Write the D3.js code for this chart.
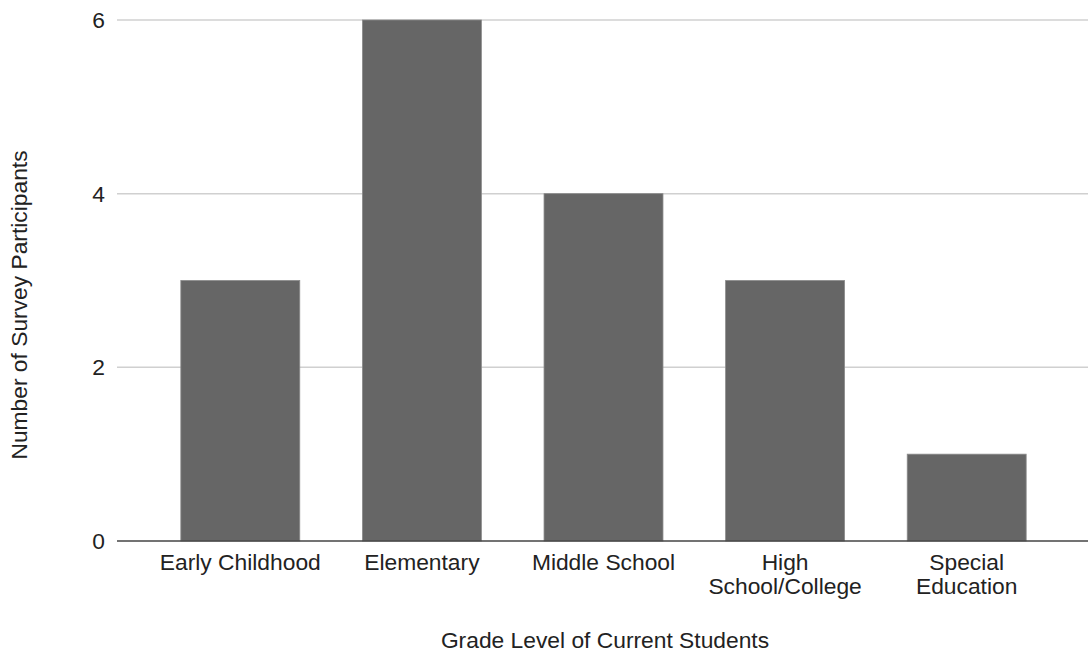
<!DOCTYPE html>
<html>
<head>
<meta charset="utf-8">
<script src="https://cdn.jsdelivr.net/npm/d3@7"></script>
<style>
  html, body { margin: 0; padding: 0; background: #fff; }
  svg { display: block; font-family: "Liberation Sans", Arial, sans-serif; }
</style>
</head>
<body>
<svg id="chart" width="1088" height="660"></svg>
<script>
// Survey participants by grade level taught
const categories = ["Early Childhood", "Elementary", "Middle School", "High School/College", "Special Education"];
const categoryLines = [["Early Childhood"], ["Elementary"], ["Middle School"], ["High", "School/College"], ["Special", "Education"]];
const participants = [3, 6, 4, 3, 1];
const yTicks = [0, 2, 4, 6];

const svg = d3.select("#chart");
const plot = { left: 117, right: 1088, top: 20, bottom: 541 };
const fontSize = 22.8;

const x = d3.scaleBand()
  .domain(categories)
  .range([149.5, 1057.5])
  .paddingInner(0.345)
  .paddingOuter(0.1725);

const y = d3.scaleLinear()
  .domain([0, 6])
  .range([plot.bottom, plot.top]);

// horizontal gridlines
svg.append("g")
  .selectAll("line")
  .data(yTicks.filter(d => d !== 0))
  .join("line")
  .attr("x1", plot.left)
  .attr("x2", plot.right)
  .attr("y1", d => y(d))
  .attr("y2", d => y(d))
  .attr("stroke", "#d0d0d0")
  .attr("stroke-width", 1.5);

// y tick labels
svg.append("g")
  .selectAll("text")
  .data(yTicks)
  .join("text")
  .attr("x", 105)
  .attr("y", d => y(d))
  .attr("dy", "0.35em")
  .attr("text-anchor", "end")
  .attr("font-size", fontSize)
  .attr("fill", "#222")
  .text(d => d);

// bars
svg.append("g")
  .selectAll("rect")
  .data(participants)
  .join("rect")
  .attr("x", (d, i) => x(categories[i]))
  .attr("width", x.bandwidth())
  .attr("y", d => y(d))
  .attr("height", d => y(0) - y(d))
  .attr("fill", "#666666")
  .attr("stroke", "#8a8a8a")
  .attr("stroke-width", 0.8);

// baseline
svg.append("line")
  .attr("x1", plot.left)
  .attr("x2", plot.right)
  .attr("y1", y(0))
  .attr("y2", y(0))
  .attr("stroke", "#444")
  .attr("stroke-width", 1.6);

// category labels
const catG = svg.append("g")
  .selectAll("text")
  .data(categories)
  .join("text")
  .attr("x", d => x(d) + x.bandwidth() / 2)
  .attr("y", 570)
  .attr("text-anchor", "middle")
  .attr("font-size", fontSize)
  .attr("fill", "#222");
catG.each(function(d, i) {
  d3.select(this).selectAll("tspan")
    .data(categoryLines[i])
    .join("tspan")
    .attr("x", x(d) + x.bandwidth() / 2)
    .attr("dy", (t, j) => j === 0 ? 0 : 24)
    .text(t => t);
});

// axis titles
svg.append("text")
  .attr("x", 605)
  .attr("y", 648)
  .attr("text-anchor", "middle")
  .attr("font-size", fontSize)
  .attr("fill", "#222")
  .text("Grade Level of Current Students");

svg.append("text")
  .attr("transform", "translate(27,305) rotate(-90)")
  .attr("text-anchor", "middle")
  .attr("font-size", fontSize)
  .attr("fill", "#222")
  .text("Number of Survey Participants");
</script>
</body>
</html>
